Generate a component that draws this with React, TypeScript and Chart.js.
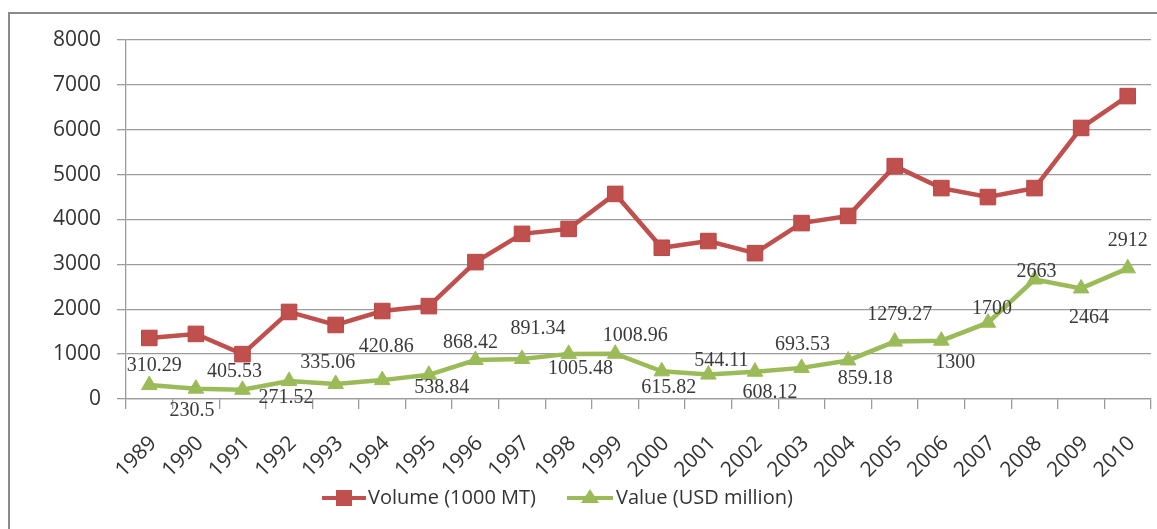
import React, { useEffect, useRef } from "react";
import { Chart, registerables } from "chart.js";

Chart.register(...registerables);

const years = ["1989","1990","1991","1992","1993","1994","1995","1996","1997","1998","1999","2000","2001","2002","2003","2004","2005","2006","2007","2008","2009","2010"];
const volume = [1360,1450,1000,1940,1650,1960,2070,3050,3680,3790,4570,3370,3520,3250,3920,4080,5190,4700,4500,4700,6040,6750];
const valueSeries = [310.29,230.5,205,400,335.06,420.86,538.84,868.42,891.34,1005.48,1008.96,615.82,544.11,608.12,693.53,859.18,1279.27,1300,1700,2663,2464,2912];
const valueLabels = ["310.29","230.5","405.53","271.52","335.06","420.86","538.84","868.42","891.34","1005.48","1008.96","615.82","544.11","608.12","693.53","859.18","1279.27","1300","1700","2663","2464","2912"];
const yTicks = [0,1000,2000,3000,4000,5000,6000,7000,8000];

// label offsets relative to each point (styling only)
const labelOffsets: [number, number][] = [
  [5,-19],[-4,22],[-8,-18],[-3,17],[-8,-21],[4,-33],[13,13],[-5,-17],[16,-30],[12,15],[20,-18],
  [7,16],[13,-14],[15,21],[1,-23],[17,18],[5,-27],[14,22],[4,-14],[2,-8],[8,29],[0,-28]
];

const RED = "#c0504d";
const GREEN = "#9bbb59";
const GRID = "#9c9c9c";
const TEXT = "#333333";

const overlay = {
  id: "overlay",
  afterDatasetsDraw(chart: any) {
    const ctx = chart.ctx as CanvasRenderingContext2D;
    const meta = chart.getDatasetMeta(1);
    ctx.save();
    ctx.font = '20px "Liberation Serif"';
    ctx.fillStyle = "#3a3a3a";
    ctx.textAlign = "center";
    ctx.textBaseline = "middle";
    meta.data.forEach((pt: any, i: number) => {
      const [dx, dy] = labelOffsets[i];
      ctx.fillText(valueLabels[i], pt.x + dx, pt.y + dy);
    });

    // legend
    const ly = 498;
    ctx.lineWidth = 4;
    ctx.strokeStyle = RED;
    ctx.beginPath(); ctx.moveTo(322, ly); ctx.lineTo(366, ly); ctx.stroke();
    ctx.fillStyle = RED;
    ctx.fillRect(344 - 8, ly - 8, 16, 16);
    ctx.strokeStyle = GREEN;
    ctx.beginPath(); ctx.moveTo(567, ly); ctx.lineTo(613, ly); ctx.stroke();
    ctx.fillStyle = GREEN;
    ctx.beginPath();
    ctx.moveTo(590, ly - 9); ctx.lineTo(599, ly + 5); ctx.lineTo(581, ly + 5); ctx.closePath(); ctx.fill();

    ctx.font = '20px "Open Sans"';
    ctx.fillStyle = TEXT;
    ctx.textAlign = "left";
    ctx.fillText(chart.data.datasets[0].label, 368, ly);
    ctx.fillText(chart.data.datasets[1].label, 616, ly);
    ctx.restore();
  },
};

export default function App() {
  const ref = useRef<HTMLCanvasElement>(null);
  useEffect(() => {
    if (!ref.current) return;
    const chart = new Chart(ref.current, {
      type: "line",
      data: {
        labels: years,
        datasets: [
          {
            label: "Volume (1000 MT)",
            data: volume,
            borderColor: RED,
            backgroundColor: RED,
            borderWidth: 4.5,
            tension: 0,
            pointStyle: "rect",
            pointRadius: 11,
            pointBorderWidth: 1,
            pointBackgroundColor: RED,
            pointBorderColor: "#b84744",
          },
          {
            label: "Value (USD million)",
            data: valueSeries,
            borderColor: GREEN,
            backgroundColor: GREEN,
            borderWidth: 4.5,
            tension: 0,
            pointStyle: "triangle",
            pointRadius: 9,
            pointBorderWidth: 1,
            pointBackgroundColor: GREEN,
            pointBorderColor: GREEN,
          },
        ],
      },
      options: {
        responsive: false,
        animation: false,
        layout: { padding: { top: 40, right: 2, left: 0, bottom: 0 } },
        plugins: { legend: { display: false }, tooltip: { enabled: false } },
        scales: {
          x: {
            offset: true,
            grid: { offset: true, drawOnChartArea: false, drawTicks: true, tickLength: 10, color: GRID, lineWidth: 1.3 },
            border: { display: true, color: GRID, width: 1.3 },
            ticks: { maxRotation: 45, minRotation: 45, autoSkip: false, font: { family: "Open Sans", size: 21 }, color: TEXT, padding: 22, labelOffset: 4 },
            afterFit(s: any) { s.height = 130; s.paddingLeft = 0; s.paddingRight = 0; },
          },
          y: {
            min: 0,
            max: 8000,
            afterBuildTicks(s: any) { s.ticks = yTicks.map((v) => ({ value: v })); },
            ticks: { font: { family: "Open Sans", size: 21 }, color: TEXT, padding: 16, callback: (v: any) => String(v) },
            grid: { color: GRID, lineWidth: 1.3, tickLength: 9 },
            border: { display: true, color: GRID, width: 1.3 },
            afterFit(s: any) { s.width = 126; },
          },
        },
      },
      plugins: [overlay],
    });
    return () => chart.destroy();
  }, []);
  return (
    <div style={{ position: "fixed", left: 0, top: 0, width: 1157, height: 529, overflow: "hidden", background: "#fff" }}>
      <div style={{ position: "absolute", left: 8, top: 12, width: 1300, height: 700, border: "2px solid #8a8a8a", boxSizing: "border-box" }} />
      <canvas ref={ref} width={1163} height={529} style={{ position: "absolute", left: 0, top: 0 }} />
    </div>
  );
}
